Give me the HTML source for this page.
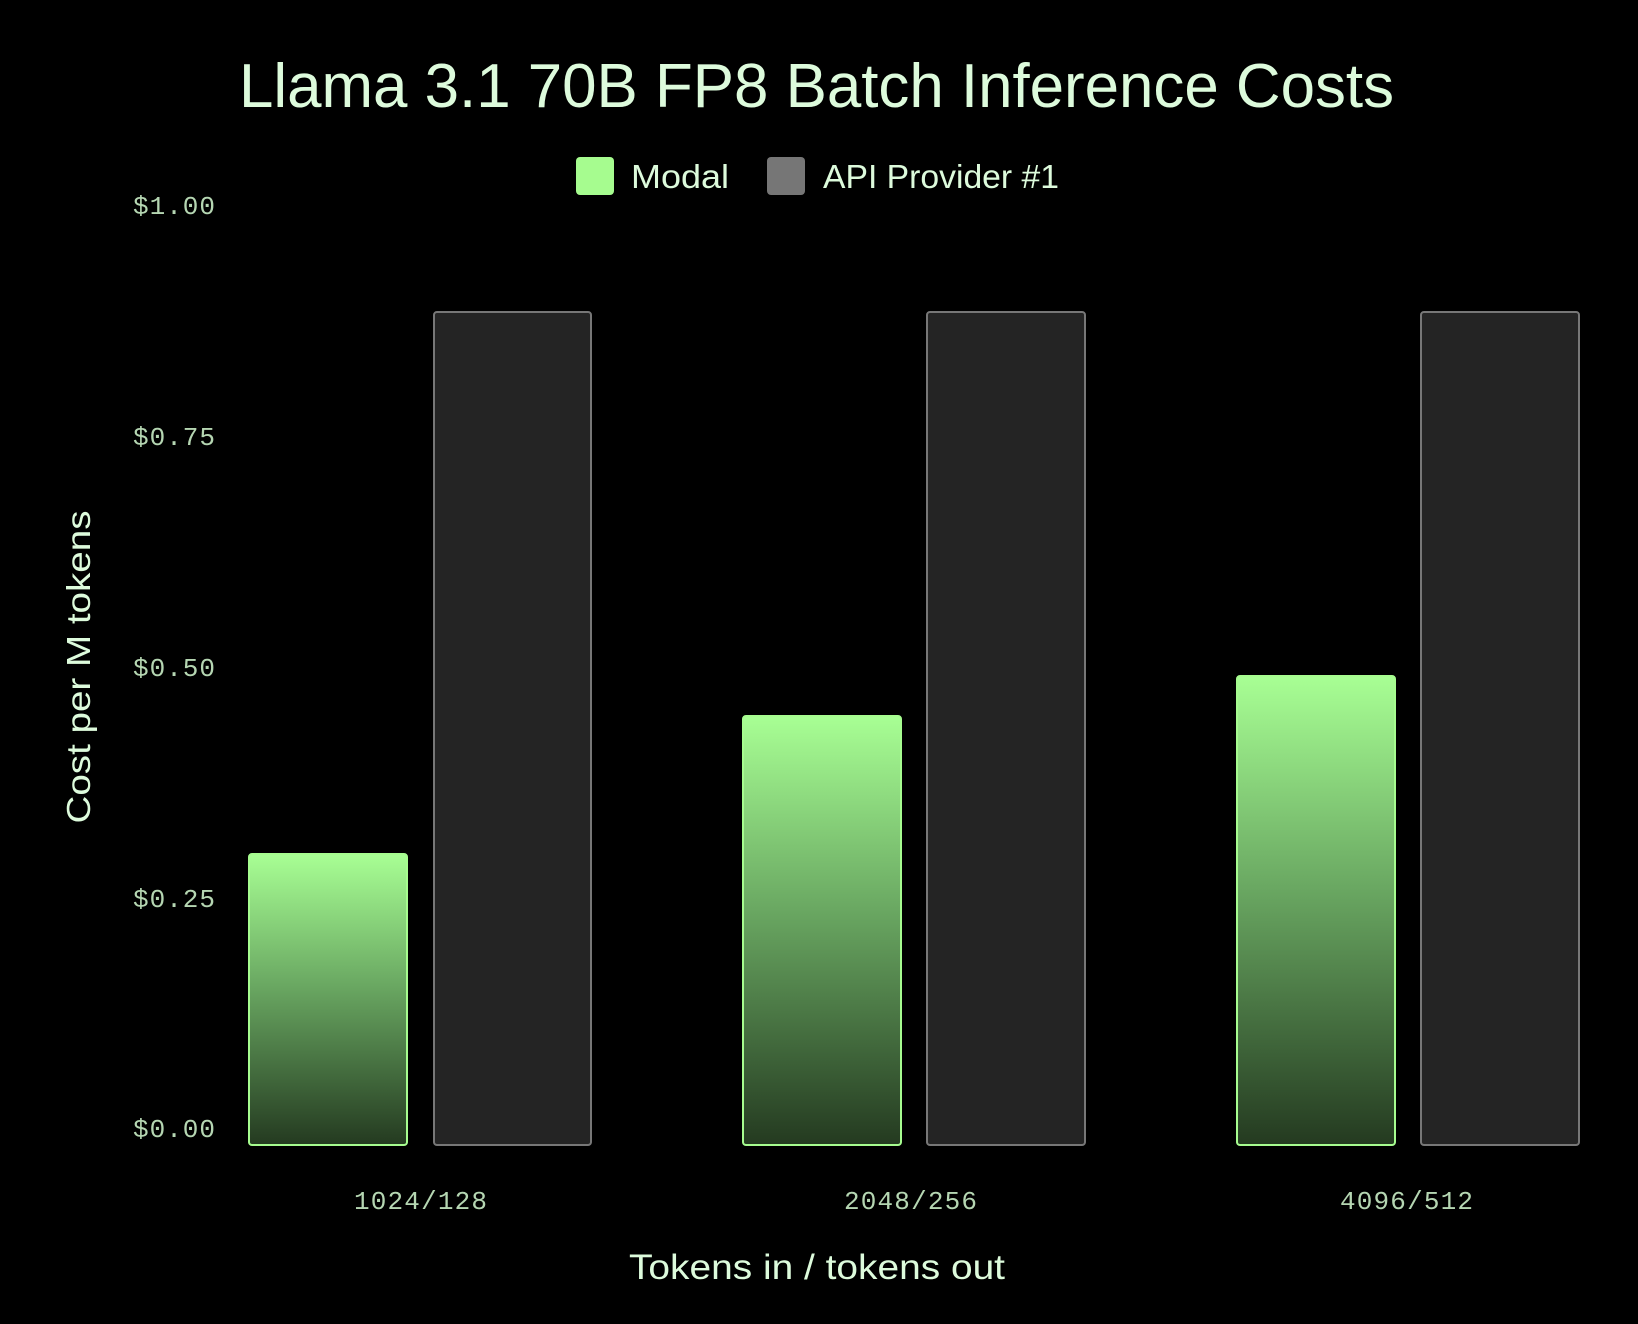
<!DOCTYPE html>
<html><head><meta charset="utf-8"><style>html,body{margin:0;padding:0;background:#000;}svg{display:block}</style></head>
<body>
<svg width="1638" height="1324" viewBox="0 0 1638 1324" xmlns="http://www.w3.org/2000/svg">
<defs>
<linearGradient id="g" x1="0" y1="0" x2="0" y2="1">
<stop offset="0" stop-color="#a8ff94"/>
<stop offset="0.45" stop-color="#6aa862"/>
<stop offset="0.8" stop-color="#3d6238"/>
<stop offset="1" stop-color="#243a20"/>
</linearGradient>
</defs>
<rect width="1638" height="1324" fill="#000"/>
<text x="239" y="107" font-family="Liberation Sans, sans-serif" font-size="62" fill="#ddfbdc" textLength="1155" lengthAdjust="spacingAndGlyphs">Llama 3.1 70B FP8 Batch Inference Costs</text>
<rect x="576" y="157" width="38" height="38" rx="4" fill="#a6fc8f"/>
<text x="631" y="188" font-family="Liberation Sans, sans-serif" font-size="33" fill="#ddfbdc" textLength="98" lengthAdjust="spacingAndGlyphs">Modal</text>
<rect x="767" y="157" width="38" height="38" rx="4" fill="#767676"/>
<text x="823" y="188" font-family="Liberation Sans, sans-serif" font-size="33" fill="#ddfbdc" textLength="236" lengthAdjust="spacingAndGlyphs">API Provider #1</text>
<g font-family="Liberation Mono, monospace" font-size="26" fill="#b5d6b2">
<text x="133" y="214" textLength="82">$1.00</text>
<text x="133" y="445" textLength="82">$0.75</text>
<text x="133" y="676" textLength="82">$0.50</text>
<text x="133" y="907" textLength="82">$0.25</text>
<text x="133" y="1137" textLength="82">$0.00</text>
<text x="354" y="1209" textLength="133">1024/128</text>
<text x="844" y="1209" textLength="133">2048/256</text>
<text x="1340" y="1209" textLength="133">4096/512</text>
</g>
<text x="817" y="1279" text-anchor="middle" font-family="Liberation Sans, sans-serif" font-size="35" fill="#ddfbdc" textLength="376" lengthAdjust="spacingAndGlyphs">Tokens in / tokens out</text>
<text transform="translate(90,667) rotate(-90)" text-anchor="middle" font-family="Liberation Sans, sans-serif" font-size="33" fill="#ddfbdc" textLength="313" lengthAdjust="spacingAndGlyphs">Cost per M tokens</text>
<g stroke-width="2">
<rect x="249" y="854" width="158" height="291" rx="3" fill="url(#g)" stroke="#a6fc8f"/>
<rect x="434" y="312" width="157" height="833" rx="3" fill="#242424" stroke="#777"/>
<rect x="743" y="716" width="158" height="429" rx="3" fill="url(#g)" stroke="#a6fc8f"/>
<rect x="927" y="312" width="158" height="833" rx="3" fill="#242424" stroke="#777"/>
<rect x="1237" y="676" width="158" height="469" rx="3" fill="url(#g)" stroke="#a6fc8f"/>
<rect x="1421" y="312" width="158" height="833" rx="3" fill="#242424" stroke="#777"/>
</g>
</svg>
</body></html>
